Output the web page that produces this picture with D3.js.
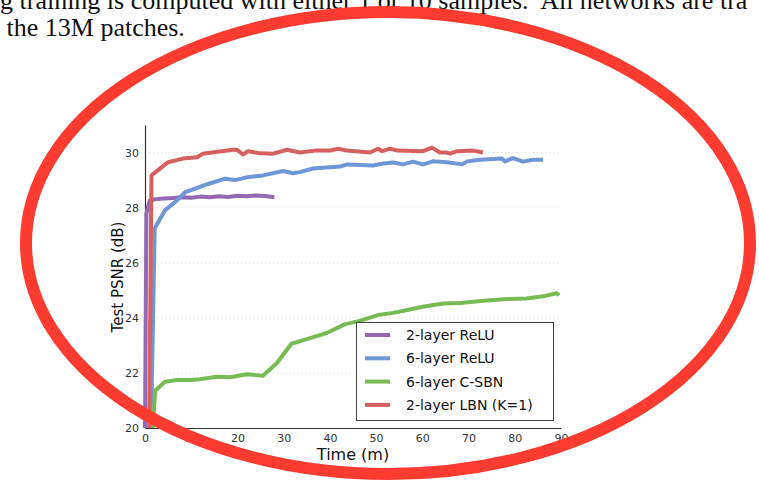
<!DOCTYPE html>
<html>
<head>
<meta charset="utf-8">
<script src="https://cdn.jsdelivr.net/npm/d3@7"></script>
<style>
  body { margin: 0; background: #fff; }
  svg { display: block; }
</style>
</head>
<body>
<svg class="chart"></svg>
<script>
const size = {w: 759, h: 481};
const plot = {left: 145, right: 561, top: 125, bottom: 428};

// series names (legend order) and colours
const seriesNames = ['2-layer ReLU', '6-layer ReLU', '6-layer C-SBN', '2-layer LBN (K=1)'];
const seriesColors = ['#9468b3', '#6f96d6', '#78bb55', '#d6605f'];

// time (minutes) and test PSNR (dB)
const relu2Time = [0, 0.3, 1, 2, 4, 6, 8, 10, 12, 14, 16, 18, 20, 22, 24, 26, 28];
const relu2Psnr = [20, 27.8, 28.25, 28.3, 28.33, 28.35, 28.38, 28.36, 28.4, 28.38, 28.41, 28.39, 28.43, 28.41, 28.44, 28.42, 28.38];

const relu6Time = [1.3, 2.1, 4.3, 6.5, 8.7, 10.4, 13.3, 17.3, 19.5, 22.0, 25.5, 29.9, 32.0, 33.5, 36.3, 42.2, 43.7, 49.3, 51.5, 53.7, 55.8, 58.0, 60.1, 62.3, 65.3, 68.6, 69.7, 72.5, 77.2, 77.9, 79.6, 81.8, 83.9, 86.1];
const relu6Psnr = [20, 27.25, 27.9, 28.2, 28.56, 28.66, 28.84, 29.05, 29.0, 29.1, 29.17, 29.33, 29.25, 29.29, 29.42, 29.49, 29.57, 29.53, 29.6, 29.64, 29.57, 29.67, 29.57, 29.68, 29.65, 29.57, 29.68, 29.74, 29.78, 29.68, 29.8, 29.67, 29.74, 29.74];

const csbnTime = [1.7, 2.2, 4.3, 6.9, 9.7, 11.9, 15.5, 18.4, 22.0, 25.5, 28.5, 31.7, 35.7, 39.3, 43.3, 46.5, 50.4, 53.7, 57.3, 60.1, 64.5, 68.2, 71.0, 74.6, 78.3, 82.6, 86.1, 89.1, 89.6];
const csbnPsnr = [20, 21.35, 21.68, 21.74, 21.74, 21.77, 21.86, 21.84, 21.95, 21.9, 22.35, 23.06, 23.26, 23.45, 23.77, 23.89, 24.1, 24.18, 24.3, 24.4, 24.52, 24.54, 24.58, 24.64, 24.68, 24.7, 24.78, 24.89, 24.82];

const lbnTime = [0.9, 1.4, 5.0, 8.2, 11.3, 12.5, 19.0, 19.9, 21.2, 22.3, 24.9, 27.7, 30.7, 33.5, 36.8, 40.0, 41.8, 43.7, 48.7, 50.4, 51.3, 53.0, 54.7, 60.1, 62.1, 63.8, 65.3, 66.0, 67.5, 71.0, 73.1];
const lbnPsnr = [20, 29.17, 29.65, 29.78, 29.83, 29.96, 30.1, 30.1, 29.93, 30.05, 29.97, 29.96, 30.1, 30.0, 30.07, 30.07, 30.14, 30.07, 30.0, 30.14, 30.05, 30.14, 30.07, 30.05, 30.18, 30.0, 30.0, 29.96, 30.05, 30.07, 30.0];

const xTicks = [0, 10, 20, 30, 40, 50, 60, 70, 80, 90];
const yTicks = [20, 22, 24, 26, 28, 30];

// surrounding page text
const pageLines = [
    'g training is computed with either 1 or 10 samples.  All networks are tra',
    ' the 13M patches.'
];

const svg = d3.select('svg.chart')
    .attr('width', size.w)
    .attr('height', size.h);

// page text behind the chart
svg.append('g').selectAll('text')
    .data(pageLines)
    .join('text')
    .attr('x', 0)
    .attr('y', (d, i) => 9 + i * 27)
    .attr('font-family', '"Liberation Serif", serif')
    .attr('font-size', 26)
    .attr('fill', '#111')
    .style('white-space', 'pre')
    .attr('xml:space', 'preserve')
    .text(d => d);

const x = d3.scaleLinear().domain([0, 90]).range([plot.left, plot.right]);
const y = d3.scaleLinear().domain([20, 31]).range([plot.bottom, plot.top]);

const chartG = svg.append('g').classed('container', true);

// dotted horizontal grid
chartG.append('g')
    .selectAll('line')
    .data(yTicks.filter(d => d > 20))
    .join('line')
    .attr('x1', plot.left)
    .attr('x2', plot.right)
    .attr('y1', d => y(d))
    .attr('y2', d => y(d))
    .attr('stroke', '#d8d8d8')
    .attr('stroke-width', 1)
    .attr('stroke-dasharray', '1,3');

// axes (no tick marks, seaborn-ish)
const xAxis = d3.axisBottom(x).tickValues(xTicks).tickSize(0).tickPadding(6);
const yAxis = d3.axisLeft(y).tickValues(yTicks).tickSize(0).tickPadding(6);

const xG = chartG.append('g')
    .attr('transform', `translate(0,${plot.bottom})`)
    .call(xAxis);
const yG = chartG.append('g')
    .attr('transform', `translate(${plot.left},0)`)
    .call(yAxis);

[xG, yG].forEach(g => {
    g.select('.domain').attr('stroke', '#333').attr('stroke-width', 1.2);
    g.selectAll('text')
        .attr('font-family', '"DejaVu Sans", sans-serif')
        .attr('font-size', 11)
        .attr('fill', '#333');
});

// axis titles
chartG.append('text')
    .attr('x', 353)
    .attr('y', 460)
    .attr('text-anchor', 'middle')
    .attr('font-family', '"DejaVu Sans", sans-serif')
    .attr('font-size', 16)
    .attr('fill', '#111')
    .text('Time (m)');

chartG.append('text')
    .attr('transform', 'translate(123,277) rotate(-90)')
    .attr('text-anchor', 'middle')
    .attr('font-family', '"DejaVu Sans", sans-serif')
    .attr('font-size', 15)
    .attr('fill', '#111')
    .text('Test PSNR (dB)');

// build series from the arrays
const series = [
    {name: seriesNames[0], color: seriesColors[0], t: relu2Time, v: relu2Psnr},
    {name: seriesNames[1], color: seriesColors[1], t: relu6Time, v: relu6Psnr},
    {name: seriesNames[2], color: seriesColors[2], t: csbnTime, v: csbnPsnr},
    {name: seriesNames[3], color: seriesColors[3], t: lbnTime, v: lbnPsnr}
];

const line = d3.line()
    .x(d => x(d[0]))
    .y(d => y(d[1]));

chartG.append('g')
    .selectAll('path')
    .data(series)
    .join('path')
    .attr('d', d => line(d.t.map((t, i) => [t, d.v[i]])))
    .attr('fill', 'none')
    .attr('stroke', d => d.color)
    .attr('stroke-width', 4)
    .attr('stroke-linejoin', 'round');

// legend
const legendG = chartG.append('g').attr('transform', 'translate(356,322)');
legendG.append('rect')
    .attr('x', 0.5)
    .attr('y', 0.5)
    .attr('width', 197)
    .attr('height', 98)
    .attr('fill', '#fff')
    .attr('stroke', '#444')
    .attr('stroke-width', 1);

const item = legendG.selectAll('g.item')
    .data(series)
    .join('g')
    .classed('item', true)
    .attr('transform', (d, i) => `translate(0,${13 + i * 23.3})`);
item.append('line')
    .attr('x1', 9).attr('x2', 34)
    .attr('stroke', d => d.color)
    .attr('stroke-width', 4);
item.append('text')
    .attr('x', 50)
    .attr('dy', '0.35em')
    .attr('font-family', '"DejaVu Sans", sans-serif')
    .attr('font-size', 14)
    .attr('fill', '#111')
    .text(d => d.name);

// the red ellipse drawn over the figure
svg.append('ellipse')
    .attr('cx', 388)
    .attr('cy', 243)
    .attr('rx', 362)
    .attr('ry', 231)
    .attr('fill', 'none')
    .attr('stroke', '#fd3b31')
    .attr('stroke-width', 12);
</script>
</body>
</html>
